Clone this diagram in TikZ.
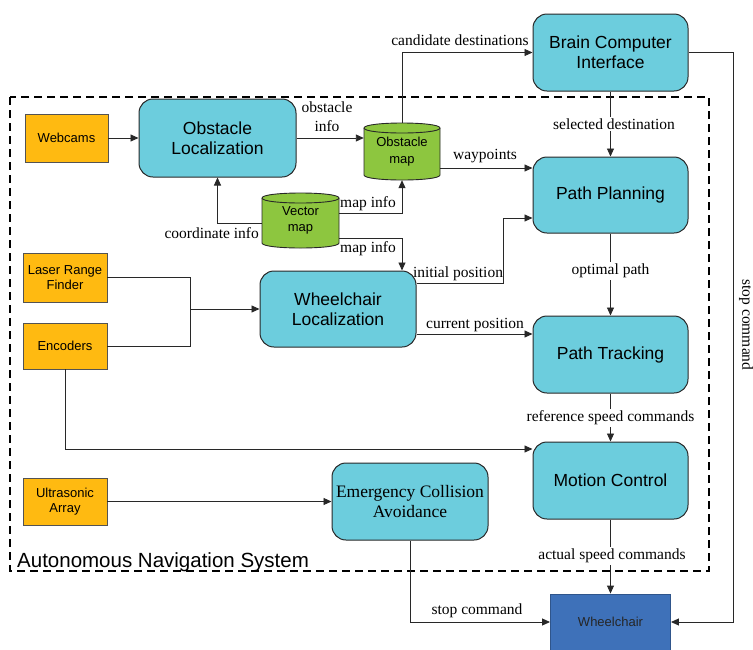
\documentclass[tikz,border=0pt]{standalone}
\usepackage{fontspec}
\setmainfont{Liberation Serif}
\setsansfont{Liberation Sans}
\usetikzlibrary{arrows.meta,calc}
\definecolor{boxcyan}{RGB}{108,205,221}
\definecolor{boxorange}{RGB}{255,186,17}
\definecolor{boxgreen}{RGB}{141,198,63}
\definecolor{boxblue}{RGB}{62,113,185}
\definecolor{linec}{RGB}{40,40,40}
\newcommand{\drawcyl}[4]{%
  \filldraw[fill=boxgreen, draw=linec, line width=0.9pt]
    (#1,#2+5) -- (#1,#4-5) .. controls (#1,#4+5/3) and (#3,#4+5/3) .. (#3,#4-5)
    -- (#3,#2+5) .. controls (#3,#2-5/3) and (#1,#2-5/3) .. (#1,#2+5) -- cycle;
  \draw[draw=linec, line width=0.9pt]
    (#1,#2+5) .. controls (#1,#2+5+20/3) and (#3,#2+5+20/3) .. (#3,#2+5);}
\begin{document}
\begin{tikzpicture}[x=1pt,y=-1pt,
  proc/.style={draw=linec, line width=1pt, fill=boxcyan, rounded corners=14pt, align=center,
    font=\sffamily\fontsize{17.5}{20}\selectfont, inner sep=0pt},
  sensor/.style={draw=linec!80, line width=0.9pt, fill=boxorange, align=center,
    font=\sffamily\fontsize{13}{15.5}\selectfont, inner sep=0pt},
  cylnode/.style={align=center, font=\sffamily\fontsize{13}{16.5}\selectfont, inner sep=0pt,
    minimum width=#1},
  lbl/.style={font=\fontsize{15.5}{17}\selectfont, inner sep=1pt},
  lblw/.style={lbl, fill=white, inner sep=2pt},
  arr/.style={draw=linec, line width=0.9pt, -{Triangle[length=8pt,width=7pt]}},
  ln/.style={draw=linec, line width=0.9pt},
]
\useasboundingbox (0,0) rectangle (753,649);

% dashed system boundary
\draw[line width=1.6pt, dash pattern=on 8pt off 5pt] (10,97) rectangle (709,571);
\node[anchor=base west, font=\sffamily\fontsize{20.5}{23}\selectfont, inner sep=0pt] (ans) at (17,567) {Autonomous Navigation System};

% process boxes
\node[proc, minimum width=155pt, minimum height=77pt] (bci) at (610.5,52.5) {Brain Computer\\Interface};
\node[proc, minimum width=157pt, minimum height=78pt] (ol) at (217.5,138) {Obstacle\\Localization};
\node[proc, minimum width=155pt, minimum height=76pt] (pp) at (610.5,195) {Path Planning};
\node[proc, minimum width=156pt, minimum height=76pt] (wl) at (338,309) {Wheelchair\\Localization};
\node[proc, minimum width=155pt, minimum height=77pt] (pt) at (610.5,354.5) {Path Tracking};
\node[proc, minimum width=155pt, minimum height=77pt] (mc) at (610.5,480.5) {Motion Control};
\node[proc, minimum width=156pt, minimum height=77pt, font=\rmfamily\fontsize{17.5}{20}\selectfont] (eca) at (410,501.5) {Emergency Collision\\Avoidance};

% sensors
\node[sensor, minimum width=83pt, minimum height=48pt] (web) at (66.5,138) {Webcams};
\node[sensor, minimum width=84pt, minimum height=49pt] (lrf) at (65,277.5) {Laser Range\\Finder};
\node[sensor, minimum width=84pt, minimum height=46pt] (enc) at (65,346) {Encoders};
\node[sensor, minimum width=84pt, minimum height=47pt] (ua) at (65,501.5) {Ultrasonic\\Array};

% wheelchair
\node[draw=boxblue!75!black, line width=0.9pt, fill=boxblue, minimum width=120pt, minimum height=56pt,
  inner sep=0pt, font=\sffamily\fontsize{13}{15.5}\selectfont, text=black!85] (wc) at (610.5,622) {Wheelchair};

% cylinders
\drawcyl{364}{123}{440}{180}
\node[cylnode=76pt, minimum height=57pt] (om) at (402,151.5) {Obstacle\\map};
\drawcyl{262}{193}{339}{248}
\node[cylnode=77pt, minimum height=55pt] (vm) at (300.5,220.5) {Vector\\map};

% connectors
\draw[arr] (web.east) -- (ol.west);
\draw[arr] (ol.east) -- (ol.east -| om.west);
\node[lbl, align=center, font=\fontsize{15.5}{19}\selectfont] (l-oi) at (327,117) {obstacle\\info};
\draw[arr] (om.north) |- (bci.west);
\node[lbl, anchor=south] (l-cd) at (460,47) {candidate destinations};
\draw[arr] (om.east |- 0,168) -- (pp.west |- 0,168);
\node[lbl, anchor=south] (l-wp) at (485,164) {waypoints};
\draw[arr] (vm.east |- 0,213) -| (om.south);
\node[lbl, anchor=south] (l-mi1) at (368,212) {map info};
\draw[arr] (vm.east |- 0,238) -| (wl.north -| 402,0);
\node[lbl, anchor=north] (l-mi2) at (368,240) {map info};
\draw[arr] (vm.west |- 0,223) -| (ol.south);
\node[lbl, anchor=north east] (l-ci) at (260,226) {coordinate info};
\coordinate (j) at (190,309);
\draw[ln] (lrf.east) -| (j);
\draw[ln] (enc.east) -| (j);
\draw[arr] (j) -- (wl.west);
\draw[arr] (wl.east |- 0,283) -- (503,283) |- (pp.west |- 0,218);
\node[lbl, anchor=south] (l-ip) at (458,282) {initial position};
\draw[arr] (wl.east |- 0,334) -- (pt.west |- 0,334);
\node[lbl, anchor=south] (l-cp) at (475,333) {current position};
\draw[arr] (enc.south) |- (mc.west |- 0,449);
\draw[arr] (ua.east) -- (eca.west);
\draw[arr] (bci.south) -- (pp.north);
\node[lblw] (l-sd) at (614,124) {selected destination};
\draw[arr] (pp.south) -- (pt.north);
\node[lblw] (l-op) at (610.5,271) {optimal path};
\draw[arr] (pt.south) -- (mc.north);
\node[lblw] (l-rs) at (610.5,418) {reference speed commands};
\draw[arr] (mc.south) -- (wc.north);
\node[lblw] (l-as) at (612,556) {actual speed commands};
\draw[arr] (eca.south) |- (wc.west);
\node[lbl, anchor=south] (l-sc) at (477,619) {stop command};
\draw[arr] (bci.east) -- (bci.east -| 733,0) |- (wc.east);
\node[lbl, rotate=-90] (l-sc2) at (746,325) {stop command};
\end{tikzpicture}
\end{document}
